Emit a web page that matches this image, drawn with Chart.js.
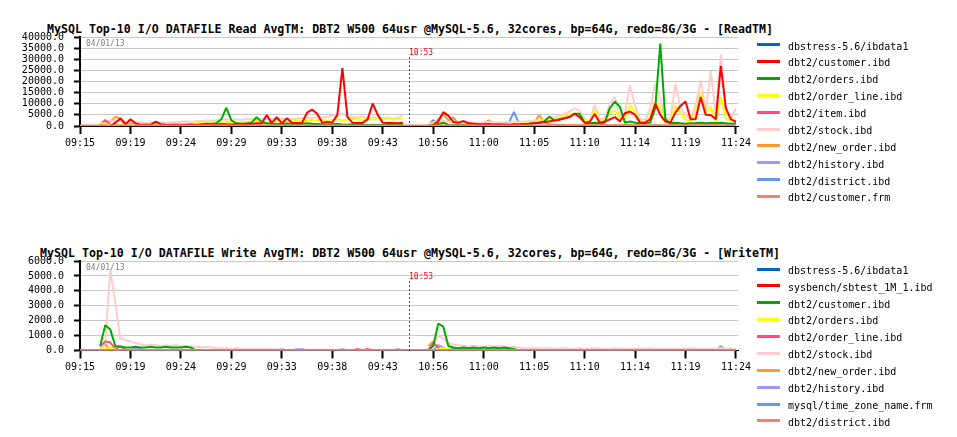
<!DOCTYPE html>
<html>
<head>
<meta charset="utf-8">
<title>MySQL Top-10 I/O DATAFILE AvgTM</title>
<script src="https://cdn.jsdelivr.net/npm/chart.js@4.4.0/dist/chart.umd.min.js"></script>
<style>
  body { margin: 0; background: #fff; }
  #wrap { position: relative; width: 957px; height: 437px; overflow: hidden; font-family: "DejaVu Sans Mono", monospace; }
  canvas { position: absolute; left: 0; }
  .title { position: absolute; left: 0; width: 820px; text-align: center; font-weight: bold; font-size: 11.6px; line-height: 12px; white-space: nowrap; color: #000; }
  .swatch { position: absolute; left: 757px; width: 23px; height: 3px; }
  .lbl { position: absolute; left: 788px; font-size: 10px; line-height: 12px; white-space: nowrap; color: #000; }
</style>
</head>
<body>
<div id="wrap">
  <div class="title" style="top:23.3px">MySQL Top-10 I/O DATAFILE Read AvgTM: DBT2 W500 64usr @MySQL-5.6, 32cores, bp=64G, redo=8G/3G - [ReadTM]</div>
  <canvas id="readChart" width="957" height="218" style="top:0"></canvas>
  <div class="title" style="top:247.3px">MySQL Top-10 I/O DATAFILE Write AvgTM: DBT2 W500 64usr @MySQL-5.6, 32cores, bp=64G, redo=8G/3G - [WriteTM]</div>
  <canvas id="writeChart" width="957" height="219" style="top:218px"></canvas>
</div>
<script>
var _ = null; // no sample (gap between the two runs)

// x axis: one sample every ~22 s, a tick label every 10 samples
var timeLabels = ['09:15', '09:19', '09:24', '09:29', '09:33', '09:38', '09:43', '10:56', '11:00', '11:05', '11:10', '11:14', '11:19', '11:24'];
var tickIndex = [0, 10, 20, 30, 40, 50, 60, 70, 80, 90, 100, 110, 120, 130];
var dateLabel = '04/01/13';
var markerLabel = '10:53';
var markerIndex = 65.25;

var seriesColors = ['#0066cc', '#ff0000', '#00aa00', '#ffff00', '#ff4f7f', '#ffcccc', '#ff9933', '#9999ff', '#6699ee', '#f08070'];

var readNames = ['dbstress-5.6/ibdata1', 'dbt2/customer.ibd', 'dbt2/orders.ibd', 'dbt2/order_line.ibd', 'dbt2/item.ibd',
                 'dbt2/stock.ibd', 'dbt2/new_order.ibd', 'dbt2/history.ibd', 'dbt2/district.ibd', 'dbt2/customer.frm'];
var writeNames = ['dbstress-5.6/ibdata1', 'sysbench/sbtest_1M_1.ibd', 'dbt2/customer.ibd', 'dbt2/orders.ibd', 'dbt2/order_line.ibd',
                  'dbt2/stock.ibd', 'dbt2/new_order.ibd', 'dbt2/history.ibd', 'mysql/time_zone_name.frm', 'dbt2/district.ibd'];

// files that stay at 0 the whole time
var idleSeries = [
  0, 0, 0, 0, 0, 0, 0, 0, 0, 0,  0, 0, 0, 0, 0, 0, 0, 0, 0, 0,
  0, 0, 0, 0, 0, 0, 0, 0, 0, 0,  0, 0, 0, 0, 0, 0, 0, 0, 0, 0,
  0, 0, 0, 0, 0, 0, 0, 0, 0, 0,  0, 0, 0, 0, 0, 0, 0, 0, 0, 0,
  0, 0, 0, 0, 0, 0, 0, 0, 0, 0,  0, 0, 0, 0, 0, 0, 0, 0, 0, 0,
  0, 0, 0, 0, 0, 0, 0, 0, 0, 0,  0, 0, 0, 0, 0, 0, 0, 0, 0, 0,
  0, 0, 0, 0, 0, 0, 0, 0, 0, 0,  0, 0, 0, 0, 0, 0, 0, 0, 0, 0,
  0, 0, 0, 0, 0, 0, 0, 0, 0, 0,  0
];

// ---- Read AvgTM ----
var readCustomer = [
  _, _, _, _, 0, 0, 0, 1500, 3400, 800,
  3000, 1200, 500, 600, 500, 2000, 800, 600, 500, 600,
  500, 600, 700, 600, 500, 800, 700, 600, 900, 800,
  700, 800, 900, 1000, 900, 1200, 1100, 4900, 1300, 4000,
  1200, 3500, 1500, 1300, 1400, 6000, 7400, 5500, 1500, 1800,
  1600, 5000, 26000, 4000, 1500, 1300, 1400, 3000, 10100, 5000,
  1500, 1400, 1300, 1200, 1500, _, _, _, _, 0,
  500, 2000, 6200, 4700, 1800, 1500, 2200, 1200, 1000, 800,
  800, 900, 700, 800, 700, 600, 800, 700, 900, 1000,
  1200, 1500, 1800, 2000, 2500, 2800, 3500, 4000, 5500, 4000,
  1500, 1800, 5400, 1500, 2000, 3000, 4000, 2000, 5700, 6500,
  5000, 1500, 1500, 3000, 10000, 5000, 2000, 1500, 6000, 9000,
  11000, 3000, 3000, 13000, 5000, 4900, 3000, 27000, 8000, 3000,
  2000
];
var readOrders = [
  _, _, _, _, 0, 0, 0, 0, 0, 0,
  0, 0, 0, 0, 0, 0, 0, 0, 0, 0,
  300, 300, 300, 300, 800, 1000, 900, 1200, 3000, 8200,
  2500, 1200, 1000, 1100, 1500, 4000, 1800, 1200, 1000, 900,
  1000, 1100, 900, 800, 1000, 1200, 1000, 900, 800, 700,
  800, 900, 700, 600, 800, 700, 600, 500, 600, 500,
  600, 500, 400, 500, 400, _, _, _, _, 0,
  200, 800, 1500, 500, 300, 400, 300, 200, 300, 200,
  300, 200, 300, 400, 300, 500, 400, 600, 800, 1000,
  1200, 1500, 2000, 4200, 2500, 3000, 3500, 4000, 5500, 5500,
  1500, 1200, 1500, 1400, 1500, 8000, 11000, 8600, 1500, 2000,
  1500, 1200, 1300, 1500, 8000, 37000, 3000, 1200, 1500, 1200,
  1000, 1200, 1300, 1500, 1200, 1400, 1300, 1500, 1200, 1000,
  1200
];
var readOrderLine = [
  _, _, _, _, 1500, 800, 500, 600, 500, 400,
  400, 500, 400, 500, 600, 500, 600, 700, 600, 700,
  800, 900, 1000, 1200, 1500, 1300, 1400, 1600, 1500, 1800,
  1700, 1500, 1600, 1800, 2000, 2200, 1800, 1600, 1900, 2000,
  2100, 1900, 2000, 2500, 2400, 2200, 2600, 2300, 2800, 2500,
  2700, 3000, 2500, 2800, 3200, 3000, 2700, 3300, 2900, 3400,
  3000, 3500, 2800, 3200, 3400, _, _, _, _, 0,
  1500, 1000, 1200, 800, 600, 800, 700, 600, 700, 600,
  700, 600, 800, 700, 800, 900, 1000, 900, 1200, 1500,
  1800, 2000, 2200, 2500, 3000, 3500, 4500, 5000, 5700, 5000,
  2500, 1800, 7100, 2000, 2500, 6000, 7000, 3000, 3500, 9500,
  6000, 2000, 1800, 4000, 11000, 8000, 2000, 1800, 9000, 6000,
  3000, 2000, 6000, 15000, 6000, 8600, 2000, 13000, 3500, 2500,
  3000
];
var readItem = [
  _, _, _, _, 600, 2700, 500, 0, 0, 0,
  0, 0, 0, 0, 0, 0, 0, 0, 0, 0,
  0, 0, 0, 0, 0, 0, 0, 0, 0, 0,
  0, 0, 0, 0, 0, 0, 0, 0, 0, 0,
  0, 0, 0, 0, 0, 0, 0, 0, 0, 0,
  0, 0, 0, 0, 0, 0, 0, 0, 0, 0,
  0, 0, 0, 0, 0, _, _, _, _, 0,
  0, 0, 0, 0, 0, 0, 0, 0, 0, 0,
  0, 0, 0, 0, 0, 0, 0, 0, 0, 0,
  0, 0, 0, 0, 0, 0, 0, 0, 0, 0,
  0, 0, 0, 0, 0, 0, 0, 0, 0, 0,
  0, 0, 0, 0, 0, 0, 0, 0, 0, 0,
  0, 0, 0, 0, 0, 0, 0, 0, 0, 0,
  0
];
var readStock = [
  _, _, _, _, 1500, 2000, 2500, 2500, 2000, 1500,
  1800, 2000, 1600, 1500, 1700, 1600, 1800, 1500, 1700, 1800,
  1800, 2000, 1900, 2100, 2300, 2500, 2400, 2600, 2800, 3000,
  2800, 3000, 2700, 3200, 3000, 2800, 3100, 3300, 3000, 3200,
  3400, 3100, 3000, 3300, 3600, 3800, 3500, 4000, 3800, 4200,
  4500, 5000, 5500, 4200, 4000, 3800, 4300, 3500, 3900, 3600,
  3400, 3800, 3200, 3600, 5000, _, _, _, _, 800,
  1500, 1800, 2200, 1800, 1700, 2000, 2200, 1800, 1600, 1500,
  1600, 1800, 1500, 1700, 1600, 1800, 2000, 1800, 2000, 2200,
  2500, 2400, 2800, 3500, 4000, 4500, 5500, 6500, 7900, 7000,
  3500, 2000, 9500, 3000, 3500, 10000, 13000, 4000, 6000, 18300,
  9000, 3000, 2800, 8000, 19000, 12000, 3500, 3000, 19000, 8000,
  5000, 3200, 9000, 20500, 7000, 24700, 4500, 32200, 6000, 3500,
  8000
];
var readNewOrder = [
  _, _, _, _, 300, 800, 2000, 4000, 3500, 1500,
  1000, 800, 700, 900, 1000, 800, 700, 600, 900, 800,
  700, 600, 500, 600, 500, 400, 500, 400, 300, 400,
  300, 300, 200, 300, 200, 300, 200, 200, 300, 200,
  200, 200, 300, 200, 200, 200, 300, 200, 200, 200,
  200, 300, 200, 200, 200, 200, 300, 200, 200, 200,
  200, 200, 300, 200, 200, _, _, _, _, 0,
  800, 3000, 5500, 2500, 3900, 1000, 800, 600, 700, 800,
  1200, 2500, 900, 700, 600, 500, 600, 500, 700, 1500,
  1200, 4900, 1500, 800, 700, 600, 500, 500, 400, 500,
  400, 400, 500, 400, 400, 300, 400, 300, 400, 300,
  300, 400, 300, 300, 400, 300, 300, 300, 400, 300,
  300, 300, 400, 300, 300, 300, 400, 300, 300, 300,
  300
];
var readDistrict = [
  _, _, _, _, 0, 0, 0, 0, 0, 0,
  0, 0, 0, 0, 0, 0, 0, 0, 0, 0,
  0, 0, 0, 0, 0, 0, 0, 0, 0, 0,
  0, 0, 0, 0, 0, 0, 0, 0, 0, 0,
  0, 0, 0, 0, 0, 0, 0, 0, 0, 0,
  0, 0, 0, 0, 0, 0, 0, 0, 0, 0,
  0, 0, 0, 0, 0, _, _, _, _, 0,
  2700, 500, 0, 0, 0, 0, 0, 0, 0, 0,
  800, 1500, 0, 0, 0, 1500, 6300, 1200, 0, 0,
  0, 0, 0, 0, 0, 0, 0, 0, 0, 0,
  0, 0, 0, 0, 0, 0, 0, 0, 0, 0,
  0, 0, 0, 0, 0, 0, 0, 0, 0, 0,
  0, 0, 0, 0, 0, 0, 0, 0, 0, 0,
  0
];

// ---- Write AvgTM ----
var writeCustomer = [
  _, _, _, _, 300, 1700, 1400, 300, 250, 200,
  200, 250, 200, 200, 250, 200, 200, 250, 200, 200,
  200, 250, 200, 0, 0, 0, 0, 0, 0, 0,
  0, 0, 0, 0, 0, 0, 0, 0, 0, 0,
  0, 0, 0, 0, 0, 0, 0, 0, 0, 0,
  0, 0, 0, 0, 0, 0, 0, 0, 0, 0,
  0, 0, 0, 0, 0, _, _, _, _, 0,
  300, 1800, 1600, 300, 200, 150, 200, 150, 200, 150,
  200, 150, 200, 150, 200, 150, 100, 0, 0, 0,
  0, 0, 0, 0, 0, 0, 0, 0, 0, 0,
  0, 0, 0, 0, 0, 0, 0, 0, 0, 0,
  0, 0, 0, 0, 0, 0, 0, 0, 0, 0,
  0, 0, 0, 0, 0, 0, 0, 0, 0, 0,
  0
];
var writeOrders = [
  _, _, _, _, 0, 150, 200, 50, 0, 0,
  0, 0, 0, 0, 0, 0, 0, 0, 0, 0,
  0, 0, 0, 0, 0, 0, 0, 0, 0, 0,
  0, 0, 0, 0, 0, 0, 0, 0, 0, 0,
  0, 0, 0, 0, 0, 0, 0, 0, 0, 0,
  0, 0, 0, 0, 0, 0, 0, 0, 0, 0,
  0, 0, 0, 0, 0, _, _, _, _, 0,
  0, 100, 150, 100, 0, 0, 0, 0, 0, 0,
  0, 0, 0, 0, 0, 0, 0, 0, 0, 0,
  0, 0, 0, 0, 0, 0, 0, 0, 0, 0,
  0, 0, 0, 0, 0, 0, 0, 0, 0, 0,
  0, 0, 0, 0, 0, 0, 0, 0, 0, 0,
  0, 0, 0, 0, 0, 0, 0, 0, 0, 0,
  0
];
var writeOrderLine = [
  _, _, _, _, 300, 600, 550, 100, 300, 50,
  0, 0, 0, 0, 0, 0, 0, 0, 0, 0,
  0, 0, 0, 0, 0, 0, 0, 0, 0, 0,
  0, 0, 0, 0, 0, 0, 0, 0, 0, 0,
  0, 0, 0, 0, 0, 0, 0, 0, 0, 0,
  0, 0, 0, 0, 0, 100, 0, 100, 0, 0,
  0, 0, 0, 0, 0, _, _, _, _, 0,
  500, 200, 0, 0, 0, 0, 0, 0, 0, 0,
  0, 0, 0, 0, 0, 0, 0, 0, 0, 0,
  0, 0, 0, 0, 0, 0, 0, 0, 0, 0,
  0, 0, 0, 0, 0, 0, 0, 0, 0, 0,
  0, 0, 0, 0, 0, 0, 0, 0, 0, 0,
  0, 0, 0, 0, 0, 0, 0, 0, 0, 0,
  0
];
var writeStock = [
  _, _, _, _, 100, 500, 5400, 3200, 800, 700,
  600, 500, 400, 350, 400, 350, 300, 350, 300, 350,
  300, 300, 250, 250, 200, 250, 200, 150, 150, 150,
  100, 150, 100, 100, 100, 100, 80, 100, 80, 80,
  50, 50, 50, 50, 50, 50, 50, 50, 50, 50,
  50, 50, 50, 50, 50, 50, 50, 50, 50, 50,
  50, 50, 50, 50, 50, _, _, _, _, 100,
  300, 1000, 800, 500, 400, 350, 300, 250, 300, 250,
  250, 300, 250, 300, 250, 200, 250, 200, 150, 150,
  150, 150, 120, 150, 120, 120, 150, 120, 120, 150,
  120, 120, 150, 120, 120, 120, 150, 120, 120, 120,
  120, 120, 120, 150, 120, 120, 120, 120, 120, 120,
  120, 150, 120, 120, 120, 120, 120, 150, 120, 120,
  120
];
var writeNewOrder = [
  _, _, _, _, 200, 400, 100, 0, 0, 0,
  0, 0, 0, 0, 0, 0, 0, 0, 0, 0,
  0, 0, 0, 0, 0, 0, 0, 0, 0, 0,
  0, 0, 0, 0, 0, 0, 0, 0, 0, 0,
  0, 0, 0, 0, 0, 0, 0, 0, 0, 0,
  0, 0, 0, 0, 0, 0, 0, 0, 0, 0,
  0, 0, 0, 0, 0, _, _, _, _, 300,
  600, 100, 0, 0, 0, 0, 0, 0, 0, 0,
  0, 0, 0, 0, 0, 0, 0, 0, 0, 0,
  0, 0, 0, 0, 0, 0, 0, 0, 0, 0,
  0, 0, 0, 0, 0, 0, 0, 0, 0, 0,
  0, 0, 0, 0, 0, 0, 0, 0, 0, 0,
  0, 0, 0, 0, 0, 0, 0, 0, 0, 0,
  0
];
var writeHistory = [
  _, _, _, _, 0, 0, 0, 0, 0, 0,
  0, 200, 100, 0, 0, 0, 0, 0, 0, 0,
  0, 0, 0, 0, 0, 0, 0, 0, 0, 0,
  0, 0, 0, 100, 100, 0, 0, 0, 0, 0,
  100, 0, 0, 100, 100, 0, 0, 0, 0, 0,
  0, 0, 100, 0, 0, 0, 0, 0, 0, 0,
  0, 0, 0, 100, 0, _, _, _, _, 0,
  0, 350, 200, 0, 150, 0, 200, 0, 150, 0,
  0, 0, 0, 300, 150, 0, 0, 0, 0, 0,
  0, 0, 0, 0, 0, 0, 0, 0, 0, 0,
  0, 0, 0, 0, 100, 0, 0, 100, 0, 0,
  0, 0, 0, 0, 100, 0, 100, 0, 0, 0,
  100, 0, 0, 0, 0, 100, 0, 300, 0, 0,
  0
];

var readSeries = [idleSeries, readCustomer, readOrders, readOrderLine, readItem,
                  readStock, readNewOrder, idleSeries, readDistrict, idleSeries];
var writeSeries = [idleSeries, idleSeries, writeCustomer, writeOrders, writeOrderLine,
                   writeStock, writeNewOrder, writeHistory, idleSeries, idleSeries];

var MONO = "'DejaVu Sans Mono', monospace";

// date stamp, dotted restart marker and its time
var markerPlugin = {
    id: 'marker',
    afterDatasetsDraw: function (chart) {
        var ctx = chart.ctx;
        var area = chart.chartArea;
        var mx = Math.round(chart.scales.x.getPixelForValue(markerIndex)) + 0.5;
        ctx.save();
        ctx.font = '8px ' + MONO;
        ctx.textBaseline = 'alphabetic';
        ctx.fillStyle = '#808080';
        ctx.fillText(dateLabel, area.left + 6, area.top + 8.5);
        ctx.strokeStyle = '#ff0000';
        ctx.lineWidth = 1;
        ctx.setLineDash([2, 2]);
        ctx.beginPath();
        ctx.moveTo(mx, area.top + 20);
        ctx.lineTo(mx, area.bottom);
        ctx.stroke();
        ctx.fillStyle = '#ff0000';
        ctx.fillText(markerLabel, mx - 0.5, area.top + 18);
        ctx.restore();
    }
};

function drawPanel(canvasId, names, series, yMax, yStep, padTop, padBottom) {
    var datasets = series.map(function (values, k) {
        return {
            label: names[k],
            data: values.map(function (v, i) { return { x: i, y: v }; }),
            borderColor: seriesColors[k],
            backgroundColor: seriesColors[k],
            borderWidth: k === 9 ? 3 : 2,
            borderJoinStyle: 'bevel',
            order: k === 9 ? -1 : 0,
            pointRadius: 0,
            tension: 0,
            spanGaps: false
        };
    });
    return new Chart(document.getElementById(canvasId), {
        type: 'line',
        data: { datasets: datasets },
        options: {
            responsive: false,
            animation: false,
            events: [],
            layout: { padding: { top: padTop, left: 0, right: 219, bottom: padBottom } },
            plugins: { legend: { display: false }, tooltip: { enabled: false }, title: { display: false } },
            scales: {
                x: {
                    type: 'linear', min: 0, max: 130.4,
                    afterBuildTicks: function (s) { s.ticks = tickIndex.map(function (v) { return { value: v }; }); },
                    afterFit: function (s) { s.height = 30; },
                    grid: { drawOnChartArea: false, drawTicks: true, tickLength: 8, tickColor: '#000', tickWidth: 2 },
                    border: { display: true, color: '#000', width: 1 },
                    ticks: {
                        autoSkip: false, maxRotation: 0, padding: 3, color: '#000',
                        font: { family: MONO, size: 10 },
                        callback: function (v, i) { return timeLabels[i]; }
                    }
                },
                y: {
                    min: 0, max: yMax,
                    afterFit: function (s) { s.width = 80; },
                    grid: { color: '#c8c8c8', lineWidth: 1, tickLength: 6, tickColor: '#000', tickWidth: 2 },
                    border: { color: '#000', width: 2 },
                    ticks: {
                        autoSkip: false, stepSize: yStep, padding: 10, color: '#000',
                        font: { family: MONO, size: 10 },
                        callback: function (v) { return v.toFixed(1); }
                    }
                }
            }
        },
        plugins: [markerPlugin]
    });
}

function buildLegend(firstRow, names) {
    var wrap = document.getElementById('wrap');
    names.forEach(function (name, k) {
        var cy = firstRow + k * 16.88;
        var sw = document.createElement('div');
        sw.className = 'swatch';
        sw.style.top = (cy - 1.5) + 'px';
        sw.style.background = seriesColors[k];
        wrap.appendChild(sw);
        var lb = document.createElement('div');
        lb.className = 'lbl';
        lb.style.top = (cy - 4.2) + 'px';
        lb.textContent = name;
        wrap.appendChild(lb);
    });
}

drawPanel('readChart', readNames, readSeries, 40000, 5000, 37, 62);
drawPanel('writeChart', writeNames, writeSeries, 6000, 1000, 43, 56.5);
buildLegend(44.7, readNames);
buildLegend(269, writeNames);
</script>
</body>
</html>
